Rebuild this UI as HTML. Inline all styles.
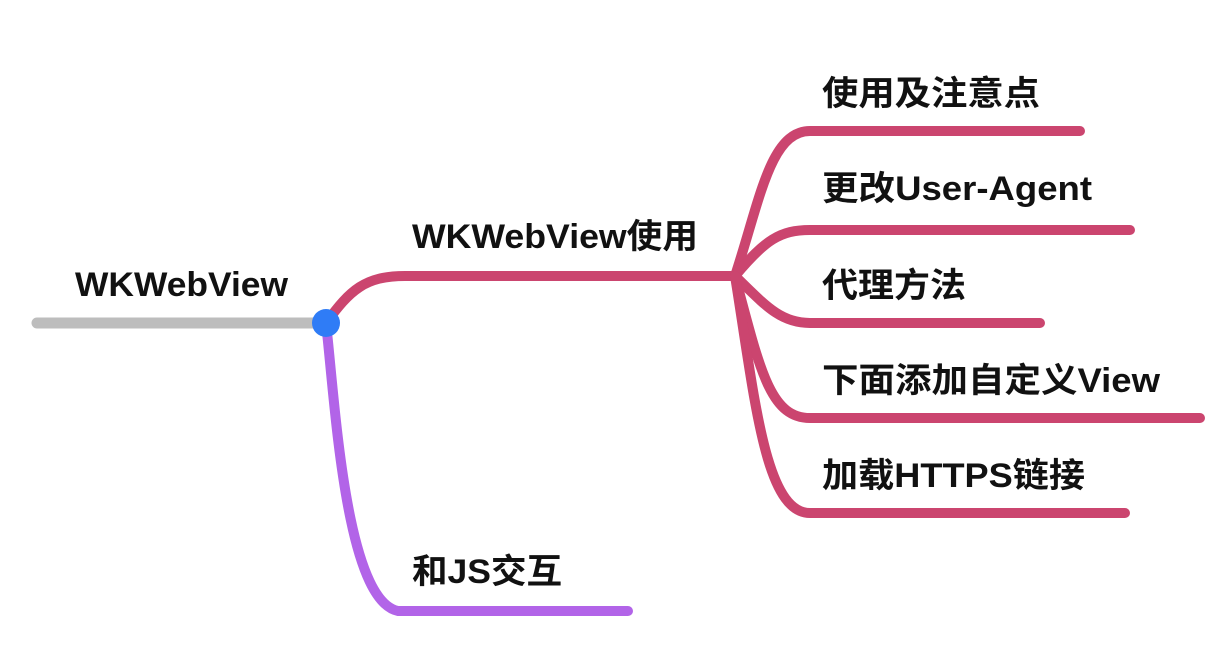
<!DOCTYPE html>
<html><head><meta charset="utf-8"><style>
html,body{margin:0;padding:0;background:#fff;}
svg{display:block}
text{font-family:"Liberation Sans","Noto Sans CJK SC",sans-serif;font-size:34px;fill:#111;font-weight:bold}
</style></head><body>
<svg width="1232" height="646" viewBox="0 0 1232 646">
<g fill="none" stroke-linecap="round">
<line x1="37" y1="323" x2="326" y2="323" stroke="#bdbdbd" stroke-width="11"/>
<path d="M326 323 C350 290 365 276 405 276 L735 276" stroke="#cb456f" stroke-width="10"/>
<path d="M326 323 C335 400 345 600 398 611 L628 611" stroke="#b264e8" stroke-width="10"/>
<g stroke="#cb456f" stroke-width="10">
<path d="M735 276 C760 200 770 131 810 131 L1080 131"/>
<path d="M735 276 C765 240 780 230 810 230 L1130 230"/>
<path d="M735 276 C765 305 780 323 810 323 L1040 323"/>
<path d="M735 276 C760 370 770 418 810 418 L1200 418"/>
<path d="M735 276 C755 400 765 513 810 513 L1125 513"/>
</g>
</g>
<circle cx="326" cy="323" r="14" fill="#2f7cf6"/>
<text x="75" y="296" textLength="213" lengthAdjust="spacingAndGlyphs">WKWebView</text>
<text x="412" y="248" textLength="286" lengthAdjust="spacingAndGlyphs">WKWebView使用</text>
<text x="412" y="583" textLength="150" lengthAdjust="spacingAndGlyphs">和JS交互</text>
<text x="822" y="105" textLength="218" lengthAdjust="spacingAndGlyphs">使用及注意点</text>
<text x="822" y="200" textLength="270" lengthAdjust="spacingAndGlyphs">更改User-Agent</text>
<text x="822" y="297" textLength="144" lengthAdjust="spacingAndGlyphs">代理方法</text>
<text x="822" y="392" textLength="338" lengthAdjust="spacingAndGlyphs">下面添加自定义View</text>
<text x="822" y="487" textLength="263" lengthAdjust="spacingAndGlyphs">加载HTTPS链接</text>
</svg>
</body></html>
